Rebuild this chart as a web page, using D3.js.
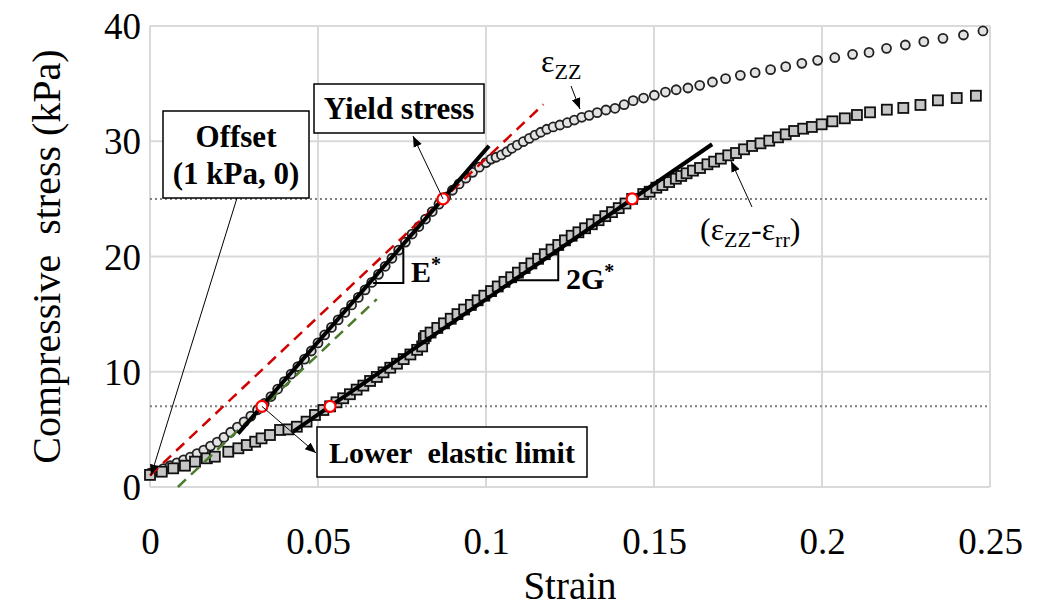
<!DOCTYPE html>
<html>
<head>
<meta charset="utf-8">
<script src="https://cdn.jsdelivr.net/npm/d3@7"></script>
<style>
  body { margin: 0; background: #fff; }
  svg { display: block; }
</style>
</head>
<body>
<svg id="chart" width="1037" height="607"></svg>
<script>
// axis ticks
var strainTicks = [0, 0.05, 0.1, 0.15, 0.2, 0.25];
var stressTicks = [0, 10, 20, 30, 40];

// series 1: axial strain (circles)
var ezzStrain = [0.000, 0.002, 0.004, 0.006, 0.008, 0.010, 0.012, 0.014, 0.016, 0.018,
    0.020, 0.022, 0.024, 0.026, 0.028, 0.030, 0.032, 0.034, 0.036, 0.038,
    0.040, 0.042, 0.044, 0.046, 0.048, 0.050, 0.052, 0.054, 0.056, 0.058,
    0.060, 0.062, 0.064, 0.066, 0.068, 0.070, 0.072, 0.074, 0.076, 0.078,
    0.080, 0.082, 0.084, 0.086, 0.088, 0.090, 0.092, 0.094, 0.096, 0.098,
    0.100, 0.1015, 0.1030, 0.1046, 0.1062, 0.1077, 0.1093, 0.1111, 0.1129, 0.1146,
    0.1163, 0.1181, 0.1200, 0.1220, 0.1242, 0.1263, 0.1285, 0.1307, 0.1331, 0.1357,
    0.1384, 0.1411, 0.1438, 0.1469, 0.1501, 0.1534, 0.1566, 0.1601, 0.1636, 0.1674,
    0.1713, 0.1757, 0.1801, 0.1847, 0.1892, 0.1940, 0.1987, 0.2038, 0.2091, 0.2140,
    0.2192, 0.2248, 0.2303, 0.2360, 0.2421, 0.2479];
var ezzStress = [1.2, 1.4, 1.6, 1.85, 2.1, 2.35, 2.6, 2.9, 3.2, 3.55,
    3.9, 4.3, 4.75, 5.2, 5.65, 6.15, 6.7, 7.25, 7.85, 8.5,
    9.15, 9.8, 10.45, 11.1, 11.8, 12.5, 13.2, 13.85, 14.5, 15.15,
    15.8, 16.45, 17.1, 17.75, 18.45, 19.15, 19.85, 20.55, 21.25, 21.95,
    22.6, 23.25, 23.9, 24.55, 25.15, 25.75, 26.3, 26.8, 27.3, 27.75,
    28.15, 28.45, 28.61, 28.81, 29.09, 29.39, 29.67, 29.96, 30.25, 30.54,
    30.78, 31.04, 31.24, 31.41, 31.61, 31.84, 32.08, 32.25, 32.48, 32.71,
    32.86, 33.17, 33.52, 33.75, 33.99, 34.27, 34.47, 34.62, 34.85, 35.14,
    35.43, 35.72, 35.95, 36.21, 36.47, 36.76, 37.02, 37.25, 37.54, 37.71,
    38.06, 38.35, 38.64, 38.93, 39.22, 39.57];

// series 2: ezz - err (squares)
var diffStrain = [0.0000, 0.0035, 0.0069, 0.0104, 0.0134, 0.0169, 0.0193, 0.0233, 0.0263, 0.0288,
    0.0313, 0.0332, 0.0357, 0.0387, 0.0412, 0.0437, 0.0466, 0.0491, 0.0516, 0.0536,
    0.0555, 0.0575, 0.0595, 0.0615, 0.0635, 0.0655, 0.0675, 0.0695, 0.0715, 0.0735,
    0.0755, 0.0775, 0.0795, 0.0810, 0.0815, 0.0820, 0.0835, 0.0855, 0.0875, 0.0895,
    0.0915, 0.0935, 0.0955, 0.0975, 0.0995, 0.1015, 0.1035, 0.1055, 0.1075, 0.1095,
    0.1115, 0.1135, 0.1155, 0.1175, 0.1195, 0.1215, 0.1235, 0.1255, 0.1275, 0.1295,
    0.1315, 0.1335, 0.1355, 0.1375, 0.1395, 0.1415, 0.1435, 0.1468, 0.1487, 0.1507,
    0.1525, 0.1545, 0.1565, 0.1581, 0.1597, 0.1616, 0.1637, 0.1659, 0.1679, 0.1699,
    0.1721, 0.1744, 0.1768, 0.1792, 0.1817, 0.1843, 0.1869, 0.1892, 0.1917, 0.1944,
    0.1970, 0.1999, 0.2031, 0.2068, 0.2104, 0.2143, 0.2193, 0.2242, 0.2293, 0.2345,
    0.2401, 0.2458];
var diffStress = [1.05, 1.33, 1.62, 1.85, 2.2, 2.49, 2.63, 3.06, 3.36, 3.64,
    3.93, 4.22, 4.51, 4.95, 5.0, 5.23, 5.67, 6.25, 6.68, 7.0,
    7.35, 7.7, 8.05, 8.45, 8.8, 9.2, 9.55, 9.95, 10.35, 10.7,
    11.1, 11.5, 11.9, 12.2, 12.9, 13.1, 13.4, 13.8, 14.2, 14.6,
    15.0, 15.4, 15.8, 16.2, 16.6, 17.0, 17.4, 17.8, 18.2, 18.6,
    19.0, 19.4, 19.8, 20.2, 20.6, 21.0, 21.4, 21.8, 22.1, 22.45,
    22.8, 23.15, 23.5, 23.85, 24.2, 24.6, 25.0, 25.42, 25.62, 25.97,
    26.2, 26.46, 26.75, 26.99, 27.22, 27.45, 27.68, 28.0, 28.23, 28.49,
    28.78, 28.98, 29.3, 29.59, 29.82, 30.05, 30.34, 30.6, 30.89, 31.09,
    31.24, 31.47, 31.73, 31.99, 32.28, 32.51, 32.74, 32.89, 33.15, 33.55,
    33.75, 33.95];

// threshold levels (kPa)
var limitLevels = [7, 25];
// lower elastic limit and yield points [strain, stress]
var lowerLimitPts = [[0.0333, 7], [0.0536, 7]];
var yieldPts = [[0.0872, 25], [0.1435, 25]];
// fitted lines [strain, stress]
var eStarLine = [[0.0262, 4.63], [0.1009, 29.6]];
var gStarLine = [[0.0427, 4.82], [0.1673, 29.74]];
var offsetLine = [[0, 1], [0.1171, 33.2]];
var parallelLine = [[0.0083, 0], [0.0675, 16.3]];
var eStarTri = [[0.0664, 17.7], [0.0754, 17.7], [0.0754, 20.8]];
var gStarTri = [[0.1086, 17.95], [0.1215, 17.95], [0.1215, 20.55]];

var SERIF = "'Liberation Serif', 'Times New Roman', serif";

var svg = d3.select("#chart");
var x = d3.scaleLinear().domain([0, 0.25]).range([150, 990]);
var y = d3.scaleLinear().domain([0, 40]).range([487, 26]);
var line = d3.line().x(function (d) { return x(d[0]); }).y(function (d) { return y(d[1]); });

// texte amb la font serif
function txt(px, py, size, bold) {
    return svg.append("text").attr("x", px).attr("y", py)
        .style("font-family", SERIF).style("font-size", size + "px")
        .style("font-weight", bold ? "bold" : "normal").attr("fill", "#000");
}

// arrow head
svg.append("defs").append("marker")
    .attr("id", "arr").attr("viewBox", "0 0 10 10").attr("refX", 10).attr("refY", 5)
    .attr("markerWidth", 11).attr("markerHeight", 11).attr("markerUnits", "userSpaceOnUse")
    .attr("orient", "auto")
    .append("path").attr("d", "M0,1 L10,5 L0,9 Z").attr("fill", "#000");

// grid
var grid = svg.append("g");
grid.selectAll(".gx").data(strainTicks).enter().append("line")
    .attr("x1", function (d) { return x(d); }).attr("x2", function (d) { return x(d); })
    .attr("y1", y(0)).attr("y2", y(40))
    .attr("stroke", "#d9d9d9").attr("stroke-width", 2);
grid.selectAll(".gy").data(stressTicks).enter().append("line")
    .attr("x1", x(0)).attr("x2", x(0.25))
    .attr("y1", function (d) { return y(d); }).attr("y2", function (d) { return y(d); })
    .attr("stroke", "#d9d9d9").attr("stroke-width", 2);

// axes (labels only)
var xAxis = d3.axisBottom(x).tickValues(strainTicks).tickSize(0).tickFormat(d3.format("~g"));
var yAxis = d3.axisLeft(y).tickValues(stressTicks).tickSize(0);
var gx = svg.append("g").attr("transform", "translate(0," + y(0) + ")").call(xAxis);
gx.select(".domain").remove();
gx.selectAll("text").attr("dy", 0).attr("y", 67).attr("fill", "#000")
    .style("font-family", SERIF).style("font-size", "37px");
var gy = svg.append("g").attr("transform", "translate(" + x(0) + ",0)").call(yAxis);
gy.select(".domain").remove();
gy.selectAll("text").attr("x", -9).attr("dy", "0.34em").attr("fill", "#000")
    .style("font-family", SERIF).style("font-size", "37px");

txt(x(0.125), 599, 39, false).attr("text-anchor", "middle").text("Strain");
txt(0, 0, 40, false).attr("transform", "translate(60," + y(20) + ") rotate(-90)")
    .attr("text-anchor", "middle").text("Compressive\u00a0 stress (kPa)");

// dotted threshold lines
svg.selectAll(".lim").data(limitLevels).enter().append("line")
    .attr("x1", x(0)).attr("x2", x(0.25))
    .attr("y1", function (d) { return y(d); }).attr("y2", function (d) { return y(d); })
    .attr("stroke", "#808080").attr("stroke-width", 2).attr("stroke-dasharray", "2,3");

// series
var ezz = d3.zip(ezzStrain, ezzStress);
var diff = d3.zip(diffStrain, diffStress);
svg.append("g").selectAll("circle").data(ezz).enter().append("circle")
    .attr("cx", function (d) { return x(d[0]); }).attr("cy", function (d) { return y(d[1]); })
    .attr("r", 4.5).attr("fill", "#e3e3e3").attr("stroke", "#222").attr("stroke-width", 1.8);
svg.append("g").selectAll("rect").data(diff).enter().append("rect")
    .attr("x", function (d) { return x(d[0]) - 5; }).attr("y", function (d) { return y(d[1]) - 5; })
    .attr("width", 10).attr("height", 10)
    .attr("fill", "#c6c6c6").attr("stroke", "#111").attr("stroke-width", 1.8);

// fitted lines
svg.append("path").attr("d", line(parallelLine)).attr("fill", "none")
    .attr("stroke", "#4a7a2c").attr("stroke-width", 2.5).attr("stroke-dasharray", "11,7");
svg.append("path").attr("d", line(offsetLine)).attr("fill", "none")
    .attr("stroke", "#d00000").attr("stroke-width", 2.5).attr("stroke-dasharray", "11,7");
svg.append("path").attr("d", line(eStarLine)).attr("fill", "none")
    .attr("stroke", "#000").attr("stroke-width", 4);
svg.append("path").attr("d", line(gStarLine)).attr("fill", "none")
    .attr("stroke", "#000").attr("stroke-width", 4);
svg.append("path").attr("d", line(eStarTri)).attr("fill", "none")
    .attr("stroke", "#000").attr("stroke-width", 2);
svg.append("path").attr("d", line(gStarTri)).attr("fill", "none")
    .attr("stroke", "#000").attr("stroke-width", 2);

// limit points
svg.append("g").selectAll("circle").data(lowerLimitPts.concat(yieldPts)).enter().append("circle")
    .attr("cx", function (d) { return x(d[0]); }).attr("cy", function (d) { return y(d[1]); })
    .attr("r", 5.5).attr("fill", "#fff").attr("stroke", "#ff0000").attr("stroke-width", 2.2);

// annotation arrows
function arrow(x1, y1, x2, y2) {
    svg.append("line").attr("x1", x1).attr("y1", y1).attr("x2", x2).attr("y2", y2)
        .attr("stroke", "#000").attr("stroke-width", 1).attr("marker-end", "url(#arr)");
}
arrow(237, 198, x(0) + 1, y(1));
arrow(x(yieldPts[0][0]), y(yieldPts[0][1]), 413, 136);
arrow(x(lowerLimitPts[0][0]), y(lowerLimitPts[0][1]), 316, 453);
arrow(571, 86, 580, 109);
arrow(752, 207, 731, 161);

// label boxes
function box(x0, y0, w, h) {
    svg.append("rect").attr("x", x0).attr("y", y0).attr("width", w).attr("height", h)
        .attr("fill", "#fff").attr("stroke", "#000").attr("stroke-width", 1.5);
}
box(163, 111, 146, 87);
txt(236, 147, 31, true).attr("text-anchor", "middle").text("Offset");
txt(236, 184, 31, true).attr("text-anchor", "middle").text("(1 kPa, 0)");
box(314, 84, 170, 49);
txt(399, 119, 31, true).attr("text-anchor", "middle").text("Yield stress");
box(317, 427, 270, 50);
txt(452, 463, 30, true).attr("text-anchor", "middle").text("Lower\u00a0 elastic limit");

// slope labels
var eLab = txt(411, 282, 30, true);
eLab.append("tspan").text("E");
eLab.append("tspan").attr("dy", -11).style("font-size", "20px").text("*");
var gLab = txt(566, 289, 30, true);
gLab.append("tspan").text("2G");
gLab.append("tspan").attr("dy", -11).style("font-size", "20px").text("*");

// series labels
var s1 = txt(541, 72, 32, false);
s1.append("tspan").text("\u03b5");
s1.append("tspan").attr("dy", 7).style("font-size", "22px").text("ZZ");
var s2 = txt(700, 240, 32, false);
s2.append("tspan").text("(\u03b5");
s2.append("tspan").attr("dy", 7).style("font-size", "22px").text("ZZ");
s2.append("tspan").attr("dy", -7).text("-\u03b5");
s2.append("tspan").attr("dy", 7).style("font-size", "22px").text("rr");
s2.append("tspan").attr("dy", -7).text(")");
</script>
</body>
</html>
